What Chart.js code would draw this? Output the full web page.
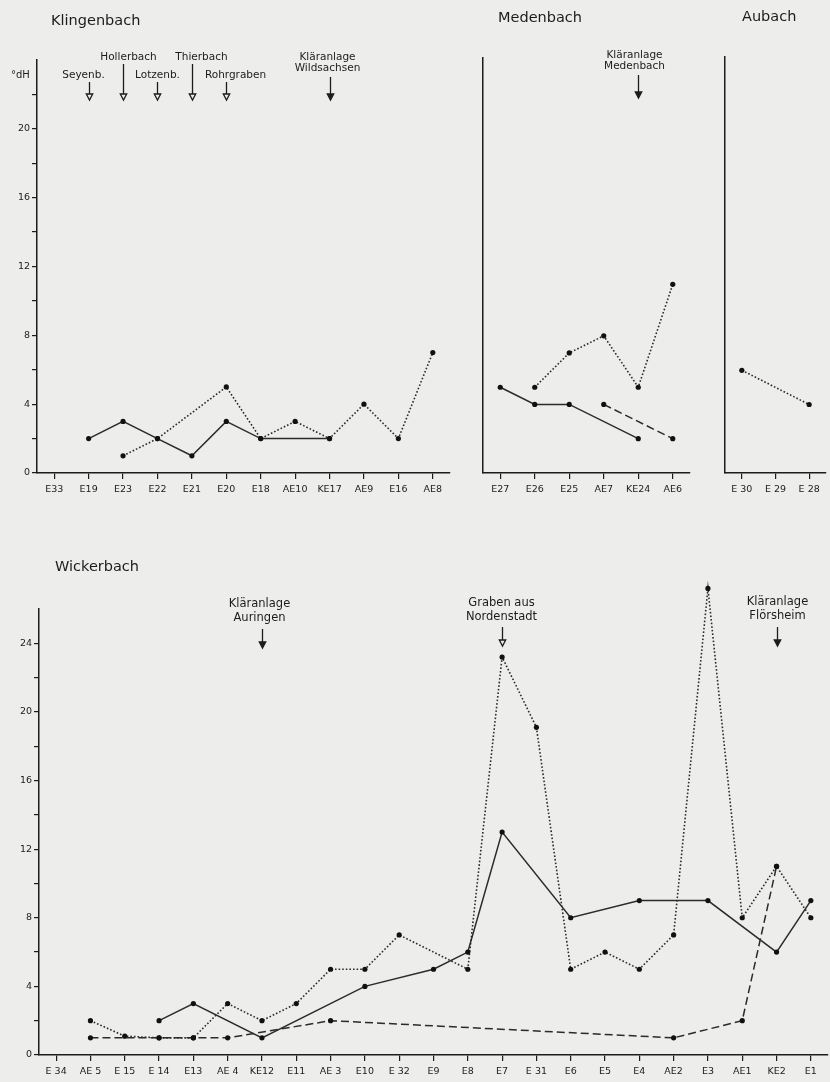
<!DOCTYPE html>
<html>
<head>
<meta charset="utf-8">
<script src="https://cdn.jsdelivr.net/npm/chart.js@4.4.1/dist/chart.umd.min.js"></script>
<style>
  html, body { margin: 0; padding: 0; width: 830px; height: 1082px; overflow: hidden; background: #ededeb; }
  canvas { position: absolute; }
</style>
</head>
<body>
<canvas id="klingen" width="460" height="505" style="left:0;top:0"></canvas>
<canvas id="meden" width="230" height="505" style="left:470px;top:0"></canvas>
<canvas id="aubach" width="118" height="505" style="left:712px;top:0"></canvas>
<canvas id="wicker" width="832" height="542" style="left:0;top:540px"></canvas>

<script>
// Gesamthärte in °dH, Messstellen bachabwärts

// Klingenbach
const klingenLabels = ['E33', 'E19', 'E23', 'E22', 'E21', 'E20', 'E18', 'AE10', 'KE17', 'AE9', 'E16', 'AE8'];
const klingenSolid  = [null, 2, 3, 2, 1, 3, 2, null, 2, null, null, null];
const klingenDotted = [null, null, 1, 2, null, 5, 2, 3, 2, 4, 2, 7];
const klingenTicks  = [0, 2, 4, 6, 8, 10, 12, 14, 16, 18, 20, 22];

// Medenbach
const medenLabels = ['E27', 'E26', 'E25', 'AE7', 'KE24', 'AE6'];
const medenSolid  = [5, 4, 4, null, 2, null];
const medenDashed = [null, null, null, 4, null, 2];
const medenDotted = [null, 5, 7, 8, 5, 11];

// Aubach
const aubachLabels = ['E 30', 'E 29', 'E 28'];
const aubachDotted = [6, null, 4];

// Wickerbach
const wickerLabels = ['E 34', 'AE 5', 'E 15', 'E 14', 'E13', 'AE 4', 'KE12', 'E11', 'AE 3', 'E10', 'E 32', 'E9',
  'E8', 'E7', 'E 31', 'E6', 'E5', 'E4', 'AE2', 'E3', 'AE1', 'KE2', 'E1'];
const wickerSolid  = [null, null, null, 2, 3, null, 1, null, null, 4, null, 5, 6, 13, null, 8, null, 9, null, 9, null, 6, 9];
const wickerDotted = [null, 2, 1.1, 1, 1, 3, 2, 3, 5, 5, 7, null, 5, 23.2, 19.1, 5, 6, 5, 7, 27.2, 8, 11, 8];
const wickerDashed = [null, 1, null, 1, 1, 1, null, null, 2, null, null, null, null, null, null, null, null, null, 1, null, 2, 11, null];
const wickerTicks  = [0, 2, 4, 6, 8, 10, 12, 14, 16, 18, 20, 22, 24];

const INK = '#1c1c1c';
const BG = '#ededeb';
const FONT = '"DejaVu Sans", "Open Sans", sans-serif';

// ------------------------------------------------------------
// Helpers
// ------------------------------------------------------------
function lineSet(data, style) {
  const ds = {
    data,
    borderColor: '#2b2b2b',
    borderWidth: 1.5,
    spanGaps: true,
    pointRadius: 2.6,
    pointBackgroundColor: '#111',
    pointBorderWidth: 0,
    tension: 0,
    clip: false
  };
  if (style === 'dotted') { ds.borderDash = [1.6, 2]; ds.borderWidth = 1.6; }
  if (style === 'dashed') { ds.borderDash = [8, 4]; }
  return ds;
}

// titles, arrows and place names drawn over the chart
function annotator(cfg) {
  return {
    id: 'annotate',
    afterDatasetsDraw(chart) {
      // Chart.js skips points above the plot area; the E3 peak sits there
      const area = chart.chartArea;
      const ctx = chart.ctx;
      ctx.save();
      ctx.fillStyle = '#111';
      chart.data.datasets.forEach((ds, i) => {
        chart.getDatasetMeta(i).data.forEach(pt => {
          if (!pt.skip && pt.y < area.top) {
            ctx.beginPath();
            ctx.arc(pt.x, pt.y, 2.6, 0, Math.PI * 2);
            ctx.fill();
          }
        });
      });
      ctx.restore();
    },
    afterDraw(chart) {
      const ctx = chart.ctx;
      const xs = chart.scales.x;
      ctx.save();
      ctx.fillStyle = INK;
      ctx.strokeStyle = INK;

      (cfg.titles || []).forEach(t => {
        ctx.font = t.font || `14.5px ${FONT}`;
        ctx.textAlign = t.align || 'left';
        ctx.textBaseline = 'middle';
        ctx.fillText(t.text, t.x, t.y);
      });

      (cfg.marks || []).forEach(m => {
        const px = Math.round(xs.getPixelForValue(xs.getLabels().indexOf(m.at))) + 0.5;
        ctx.font = `${m.size || 10.5}px ${FONT}`;
        ctx.textAlign = 'center';
        ctx.textBaseline = 'middle';
        m.lines.forEach((line, i) => {
          ctx.fillText(line, px + (m.dx || 0), m.textY + i * (m.lh || 11.5));
        });
        // shaft
        ctx.lineWidth = 1.3;
        ctx.beginPath();
        ctx.moveTo(px, m.y1);
        ctx.lineTo(px, m.y2 - 6);
        ctx.stroke();
        // head
        ctx.beginPath();
        ctx.moveTo(px - 3.2, m.y2 - 6);
        ctx.lineTo(px + 3.2, m.y2 - 6);
        ctx.lineTo(px, m.y2);
        ctx.closePath();
        ctx.fillStyle = m.open ? BG : INK;
        ctx.fill();
        ctx.stroke();
        ctx.fillStyle = INK;
      });
      ctx.restore();
    }
  };
}

function makePanel(id, o) {
  const showY = !!o.yTicks;
  new Chart(document.getElementById(id), {
    type: 'line',
    data: { labels: o.labels, datasets: o.datasets },
    plugins: [annotator(o)],
    options: {
      responsive: false,
      animation: false,
      events: [],
      layout: { padding: o.padding },
      plugins: { legend: { display: false }, tooltip: { enabled: false } },
      scales: {
        x: {
          type: 'category',
          offset: true,
          afterFit: s => { s.height = o.xHeight; },
          grid: { drawOnChartArea: false, offset: false, tickLength: 6, color: INK, lineWidth: 1.2 },
          border: { color: INK, width: 1.5 },
          ticks: { padding: 5, color: INK, font: { family: FONT, size: 9.5 }, maxRotation: 0, autoSkip: false }
        },
        y: {
          min: 0,
          max: o.yMax,
          afterFit: s => { s.width = o.yWidth; },
          afterBuildTicks: s => { if (showY) s.ticks = o.yTicks.map(v => ({ value: v })); },
          grid: { drawOnChartArea: false, drawTicks: showY, tickLength: 5, color: INK, lineWidth: 1.2 },
          border: { color: INK, width: 1.5 },
          ticks: {
            display: showY,
            padding: 2,
            color: INK,
            font: { family: FONT, size: 9.5 },
            callback: v => (v % 4 === 0 ? v : '')
          }
        }
      }
    }
  });
}

// ------------------------------------------------------------
// Panels
// ------------------------------------------------------------
makePanel('klingen', {
  labels: klingenLabels,
  datasets: [lineSet(klingenSolid, 'solid'), lineSet(klingenDotted, 'dotted')],
  padding: { top: 60, right: 10, left: 0, bottom: 0 },
  xHeight: 32, yWidth: 37, yMax: 24, yTicks: klingenTicks,
  titles: [
    { text: 'Klingenbach', x: 51, y: 21 },
    { text: '°dH', x: 11, y: 75, font: `10px ${FONT}` }
  ],
  marks: [
    { at: 'E19', lines: ['Seyenb.'], dx: -6, textY: 75, y1: 82, y2: 100, open: true },
    { at: 'E23', lines: ['Hollerbach'], dx: 5, textY: 57, y1: 64, y2: 100, open: true },
    { at: 'E22', lines: ['Lotzenb.'], dx: 0, textY: 75, y1: 82, y2: 100, open: true },
    { at: 'E21', lines: ['Thierbach'], dx: 9, textY: 57, y1: 64, y2: 100, open: true },
    { at: 'E20', lines: ['Rohrgraben'], dx: 9, textY: 75, y1: 82, y2: 100, open: true },
    { at: 'KE17', lines: ['Kläranlage', 'Wildsachsen'], dx: -3, textY: 57, y1: 77, y2: 100, open: false }
  ]
});

makePanel('meden', {
  labels: medenLabels,
  datasets: [lineSet(medenSolid, 'solid'), lineSet(medenDashed, 'dashed'), lineSet(medenDotted, 'dotted')],
  padding: { top: 58, right: 10, left: 13, bottom: 0 },
  xHeight: 32, yWidth: 0, yMax: 24.2,
  titles: [{ text: 'Medenbach', x: 28, y: 18 }],
  marks: [
    { at: 'KE24', lines: ['Kläranlage', 'Medenbach'], dx: -4, textY: 55, y1: 75, y2: 98, open: false }
  ]
});

makePanel('aubach', {
  labels: aubachLabels,
  datasets: [lineSet(aubachDotted, 'dotted')],
  padding: { top: 57, right: 0, left: 13, bottom: 0 },
  xHeight: 32, yWidth: 0, yMax: 24.3,
  titles: [{ text: 'Aubach', x: 30, y: 17 }]
});

makePanel('wicker', {
  labels: wickerLabels,
  datasets: [lineSet(wickerSolid, 'solid'), lineSet(wickerDashed, 'dashed'), lineSet(wickerDotted, 'dotted')],
  padding: { top: 69, right: 1, left: 0, bottom: 0 },
  xHeight: 27, yWidth: 39, yMax: 26, yTicks: wickerTicks,
  titles: [{ text: 'Wickerbach', x: 55, y: 27 }],
  marks: [
    { at: 'KE12', lines: ['Kläranlage', 'Auringen'], dx: -3, textY: 64, lh: 14.5, size: 11.5, y1: 89, y2: 108, open: false },
    { at: 'E7', lines: ['Graben aus', 'Nordenstadt'], dx: -1, textY: 63, lh: 14.5, size: 11.5, y1: 87, y2: 106, open: true },
    { at: 'KE2', lines: ['Kläranlage', 'Flörsheim'], dx: 0, textY: 62, lh: 14.5, size: 11.5, y1: 87, y2: 106, open: false }
  ]
});
</script>
</body>
</html>
